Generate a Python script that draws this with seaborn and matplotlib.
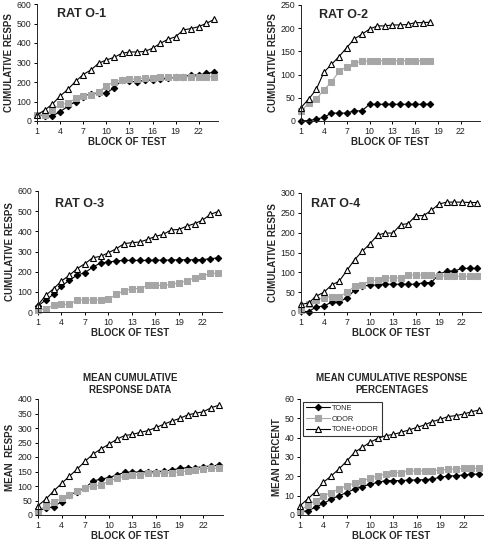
import matplotlib
matplotlib.use("Agg")
import matplotlib.pyplot as plt
import seaborn as sns
import numpy as np
import pandas as pd

blocks24 = list(range(1, 25))
blocks18 = list(range(1, 19))

o1_tone = [30, 28, 26, 48, 75, 100, 125, 140, 142, 142, 171, 208, 205, 200, 210, 210, 213, 219, 224, 227, 236, 236, 244, 250]
o1_odor = [30, 30, 56, 85, 90, 116, 130, 133, 150, 180, 200, 210, 213, 217, 219, 222, 224, 224, 224, 227, 227, 227, 227, 227]
o1_both = [31, 56, 87, 128, 162, 203, 238, 262, 296, 313, 326, 347, 354, 354, 357, 373, 398, 419, 432, 467, 474, 484, 501, 521]

o2_tone = [0, 1, 4, 8, 17, 17, 17, 22, 22, 36, 36, 36, 36, 36, 36, 36, 36, 36]
o2_odor = [22, 38, 47, 67, 84, 107, 117, 124, 129, 129, 130, 130, 130, 130, 130, 130, 130, 130]
o2_both = [29, 47, 68, 105, 122, 139, 158, 177, 187, 198, 205, 205, 207, 207, 208, 212, 212, 213]

o3_tone = [30, 60, 88, 129, 157, 183, 195, 223, 243, 248, 253, 256, 256, 256, 256, 257, 257, 258, 259, 259, 259, 260, 264, 269]
o3_odor = [8, 17, 33, 38, 38, 60, 60, 60, 60, 63, 88, 104, 116, 116, 132, 132, 132, 137, 145, 154, 170, 179, 192, 192]
o3_both = [35, 83, 116, 154, 182, 215, 240, 269, 276, 294, 314, 339, 344, 347, 360, 375, 385, 407, 409, 426, 438, 455, 484, 498]

o4_tone = [2, 1, 13, 15, 25, 25, 36, 55, 65, 68, 68, 70, 70, 70, 70, 70, 74, 74, 95, 103, 103, 110, 110, 110]
o4_odor = [5, 19, 30, 36, 39, 39, 50, 65, 67, 80, 80, 86, 86, 86, 93, 93, 93, 93, 91, 91, 90, 90, 90, 90]
o4_both = [19, 23, 40, 50, 68, 78, 105, 132, 153, 172, 194, 199, 199, 220, 223, 243, 243, 256, 272, 277, 277, 277, 276, 276]

mean_tone = [14, 23, 29, 46, 69, 80, 94, 117, 124, 129, 138, 147, 147, 149, 149, 149, 152, 155, 161, 163, 163, 167, 169, 172]
mean_odor = [14, 32, 44, 57, 69, 84, 94, 100, 103, 117, 126, 134, 138, 138, 144, 144, 144, 146, 149, 152, 155, 159, 161, 161]
mean_both = [32, 55, 83, 109, 134, 159, 186, 210, 228, 244, 261, 274, 278, 285, 291, 302, 313, 324, 333, 345, 351, 356, 370, 379]

pct_tone = [1.7, 2.2, 4.0, 6.0, 8.1, 10.0, 11.6, 13.4, 14.7, 15.9, 16.9, 17.8, 17.8, 17.8, 18.1, 18.1, 18.3, 18.6, 19.5, 20.2, 20.3, 20.7, 21.0, 21.2]
pct_odor = [2.2, 5.2, 7.4, 9.8, 11.6, 13.4, 15.2, 16.4, 17.6, 19.0, 20.3, 21.2, 21.9, 21.9, 22.8, 22.8, 22.9, 22.9, 23.3, 23.6, 23.8, 24.1, 24.1, 24.1]
pct_both = [4.8, 8.3, 12.1, 16.9, 20.2, 23.8, 27.9, 32.4, 35.0, 37.6, 39.7, 41.0, 41.7, 42.8, 44.0, 45.3, 46.6, 48.3, 49.5, 50.9, 51.4, 52.2, 53.4, 54.3]

series_names = ["TONE", "ODOR", "TONE+ODOR"]
x_ticks = [1, 4, 7, 10, 13, 16, 19, 22]

sns.set_theme(style="ticks")
plt.rcParams["font.family"] = ["Liberation Sans", "DejaVu Sans"]

fig = plt.figure(figsize=(4.86, 5.44), dpi=100)
W, H = 486.0, 544.0

def make_ax(left, top, right, bottom):
    return fig.add_axes([left / W, 1 - bottom / H, (right - left) / W, (bottom - top) / H])

GRAY = "#a6a6a6"
styles = [
    dict(marker="D", color="black", markerfacecolor="black", markeredgecolor="black", markersize=3.3, linewidth=0.8),
    dict(marker="s", color=GRAY, markerfacecolor=GRAY, markeredgecolor=GRAY, markersize=4.3, linewidth=0.8),
    dict(marker="^", color="black", markerfacecolor="white", markeredgecolor="black", markersize=4.7, markeredgewidth=0.8, linewidth=0.8),
]

def draw(ax, x, data, ymax, ystep, ylabel, title=None, title_pos=None, top_title=None, legend=False):
    for name, vals, st in zip(series_names, data, styles):
        sns.lineplot(x=x, y=vals, ax=ax, label=name if legend else None, clip_on=False, **st)
    ax.set_xlim(1, 24.5)
    ax.set_ylim(0, ymax)
    ax.set_xticks(x_ticks)
    ax.set_yticks(np.arange(0, ymax + 0.1, ystep))
    ax.tick_params(axis="both", labelsize=6.3, length=2.5, width=0.7, pad=1.5, colors="black", labelcolor="#222222")
    for s in ["top", "right"]:
        ax.spines[s].set_visible(False)
    for s in ["left", "bottom"]:
        ax.spines[s].set_linewidth(0.7)
    ax.set_xlabel("BLOCK OF TEST", fontsize=7, fontweight="bold", labelpad=1)
    ax.set_ylabel(ylabel, fontsize=7, fontweight="bold", labelpad=2)
    if title:
        ax.text(title_pos[0], title_pos[1], title, transform=ax.transAxes, fontsize=9, fontweight="bold", ha="left", va="center")
    if top_title:
        ax.set_title(top_title, fontsize=7, fontweight="bold", pad=4, linespacing=1.3)
    if legend:
        leg = ax.legend(loc="upper left", bbox_to_anchor=(0.01, 0.99), fontsize=5.3, frameon=True, fancybox=False,
                        edgecolor="black", handlelength=3.2, borderpad=0.4, labelspacing=0.5, handletextpad=0.3, borderaxespad=0.2)
        leg.get_frame().set_linewidth(0.8)
        leg.set_zorder(5)
    elif ax.get_legend() is not None:
        ax.get_legend().remove()

ax1 = make_ax(37, 4, 218, 121)
draw(ax1, blocks24, [o1_tone, o1_odor, o1_both], 600, 100, "CUMULATIVE RESPS", "RAT O-1", (0.11, 0.915))

ax2 = make_ax(301, 5, 480, 121)
draw(ax2, blocks18, [o2_tone, o2_odor, o2_both], 250, 50, "CUMULATIVE RESPS", "RAT O-2", (0.10, 0.91))

ax3 = make_ax(38, 191, 222, 312)
draw(ax3, blocks24, [o3_tone, o3_odor, o3_both], 600, 100, "CUMULATIVE RESPS", "RAT O-3", (0.09, 0.89))

ax4 = make_ax(301, 193, 481, 312)
draw(ax4, blocks24, [o4_tone, o4_odor, o4_both], 300, 50, "CUMULATIVE RESPS", "RAT O-4", (0.055, 0.91))

ax5 = make_ax(38, 399, 223, 515)
draw(ax5, blocks24, [mean_tone, mean_odor, mean_both], 400, 50, "MEAN  RESPS", top_title="MEAN CUMULATIVE\nRESPONSE DATA")

ax6 = make_ax(300, 399, 483, 515)
draw(ax6, blocks24, [pct_tone, pct_odor, pct_both], 60, 10, "MEAN PERCENT", top_title="MEAN CUMULATIVE RESPONSE\nPERCENTAGES", legend=True)

fig.savefig("out.png", dpi=100)
